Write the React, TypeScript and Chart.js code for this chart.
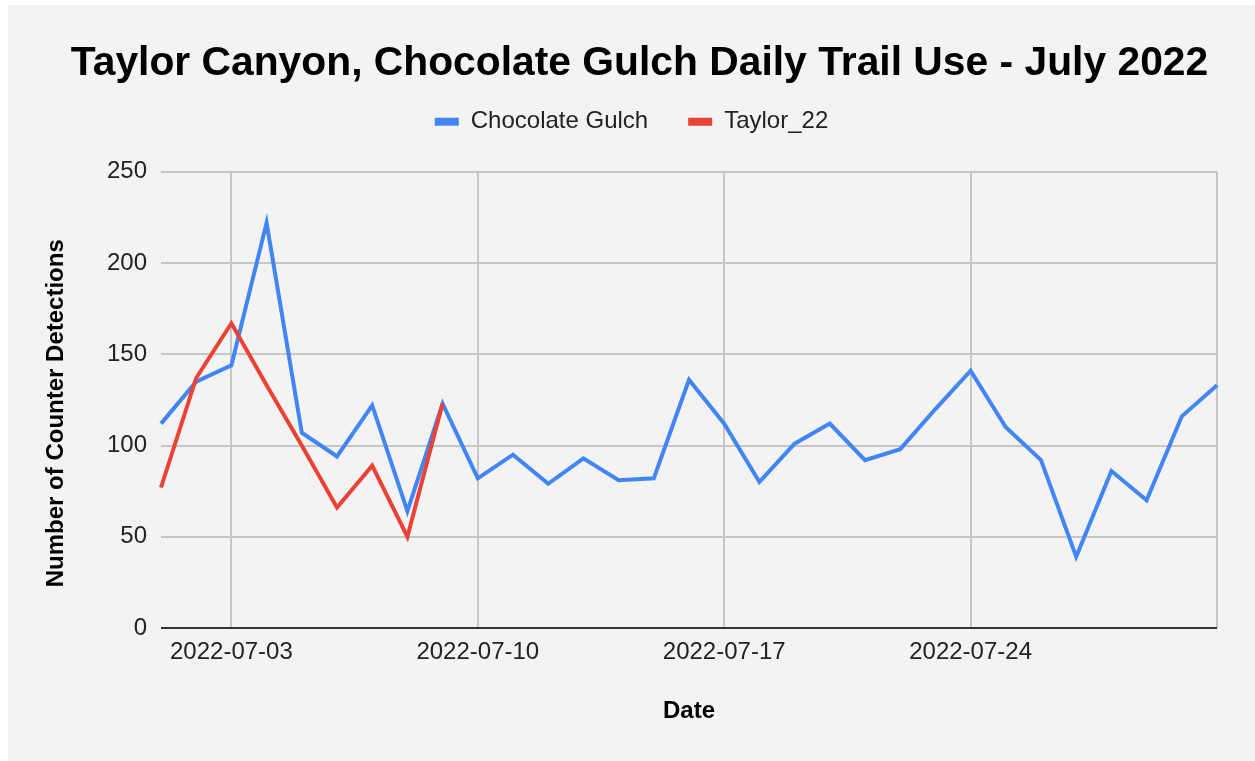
import React, { useEffect, useRef } from 'react';
import { Chart, registerables } from 'chart.js';

Chart.register(...registerables);

const dates = [
  '2022-07-01', '2022-07-02', '2022-07-03', '2022-07-04', '2022-07-05', '2022-07-06', '2022-07-07',
  '2022-07-08', '2022-07-09', '2022-07-10', '2022-07-11', '2022-07-12', '2022-07-13', '2022-07-14',
  '2022-07-15', '2022-07-16', '2022-07-17', '2022-07-18', '2022-07-19', '2022-07-20', '2022-07-21',
  '2022-07-22', '2022-07-23', '2022-07-24', '2022-07-25', '2022-07-26', '2022-07-27', '2022-07-28',
  '2022-07-29', '2022-07-30', '2022-07-31',
];

const chocolateGulch = [
  112, 135, 144, 222, 107, 94, 122, 64, 123, 82, 95, 79, 93, 81, 82, 136,
  112, 80, 101, 112, 92, 98, 120, 141, 110, 92, 39, 86, 70, 116, 133,
];

const taylor22 = [77, 137, 167, 133, 100, 66, 89, 50, 123];

const labeledDates = ['2022-07-03', '2022-07-10', '2022-07-17', '2022-07-24'];
const gridOnlyDates = ['2022-07-31'];

const yMin = 0;
const yMax = 250;
const yStep = 50;

const FONT = "'Liberation Sans', Arial, sans-serif";

export default function App() {
  const ref = useRef<HTMLCanvasElement>(null);

  useEffect(() => {
    const legendGap = {
      id: 'legendGap',
      beforeInit(chart: any) {
        const lg = chart.legend;
        if (!lg) return;
        const orig = lg.fit;
        lg.fit = function () {
          orig.call(this);
          this.height += 28;
        };
      },
    };
    const shiftTitle = {
      id: 'shiftTitle',
      afterLayout(chart: any) {
        const t = chart.titleBlock;
        if (t) t.left += 16;
      },
    };

    const chart = new Chart(ref.current as HTMLCanvasElement, {
      type: 'line',
      data: {
        labels: dates,
        datasets: [
          {
            label: 'Chocolate Gulch',
            data: chocolateGulch,
            borderColor: '#4285F4',
            backgroundColor: '#4285F4',
            borderWidth: 4,
            pointRadius: 0,
            pointHoverRadius: 0,
            tension: 0,
            order: 2,
          },
          {
            label: 'Taylor_22',
            data: taylor22,
            borderColor: '#EA4335',
            backgroundColor: '#EA4335',
            borderWidth: 4,
            pointRadius: 0,
            pointHoverRadius: 0,
            tension: 0,
            order: 1,
          },
        ],
      },
      options: {
        animation: false,
        responsive: false,
        devicePixelRatio: 1,
        layout: { padding: 0 },
        plugins: {
          title: {
            display: true,
            text: 'Taylor Canyon, Chocolate Gulch Daily Trail Use - July 2022',
            color: '#000',
            font: { family: FONT, size: 40.8, weight: 'bold', lineHeight: 1 },
            padding: { top: 38, bottom: -14 },
          },
          legend: {
            display: true,
            position: 'top',
            labels: {
              boxWidth: 24,
              boxHeight: 8,
              padding: 40,
              color: '#222',
              font: { family: FONT, size: 24 },
              sort: (a: any, b: any) => a.datasetIndex - b.datasetIndex,
              generateLabels: (c: any) =>
                (Chart.defaults.plugins.legend.labels.generateLabels as any)(c).map((i: any) => ({
                  ...i,
                  lineWidth: 0,
                })),
            },
          },
          tooltip: { enabled: false },
        },
        scales: {
          x: {
            type: 'category',
            offset: false,
            border: { display: false },
            grid: {
              drawTicks: false,
              lineWidth: 2,
              color: (ctx: any) => {
                const d = dates[ctx.index];
                return labeledDates.includes(d) || gridOnlyDates.includes(d) ? '#c6c6c6' : 'rgba(0,0,0,0)';
              },
            },
            ticks: {
              autoSkip: false,
              maxRotation: 0,
              minRotation: 0,
              padding: 10,
              color: '#222',
              font: { family: FONT, size: 24 },
              callback: (_v: any, index: number) => {
                const d = dates[index];
                return labeledDates.includes(d) ? d : '';
              },
            },
            title: {
              display: true,
              text: 'Date',
              color: '#000',
              font: { family: FONT, size: 24, weight: 'bold' },
              padding: { top: 0, bottom: 35.6 },
            },
            afterFit: (scale: any) => {
              scale.height = 133;
              scale.paddingRight = 38;
              scale.paddingLeft = 0;
            },
          },
          y: {
            min: yMin,
            max: yMax,
            border: { display: false },
            grid: {
              drawTicks: false,
              lineWidth: 2,
              color: (ctx: any) => (ctx.tick && ctx.tick.value === 0 ? '#333333' : '#c6c6c6'),
            },
            ticks: {
              stepSize: yStep,
              padding: 14,
              color: '#222',
              font: { family: FONT, size: 24 },
            },
            title: {
              display: true,
              text: 'Number of Counter Detections    ',
              color: '#000',
              font: { family: FONT, size: 24, weight: 'bold' },
              padding: { top: 33.6, bottom: 0 },
            },
            afterFit: (scale: any) => {
              scale.width = 153;
            },
          },
        },
      } as any,
      plugins: [legendGap, shiftTitle],
    });

    return () => chart.destroy();
  }, []);

  return (
    <div
      style={{
        position: 'fixed',
        left: 8,
        top: 5,
        width: 1247,
        height: 756,
        background: '#f3f3f3',
      }}
    >
      <canvas ref={ref} width={1247} height={756} style={{ display: 'block' }} />
    </div>
  );
}
